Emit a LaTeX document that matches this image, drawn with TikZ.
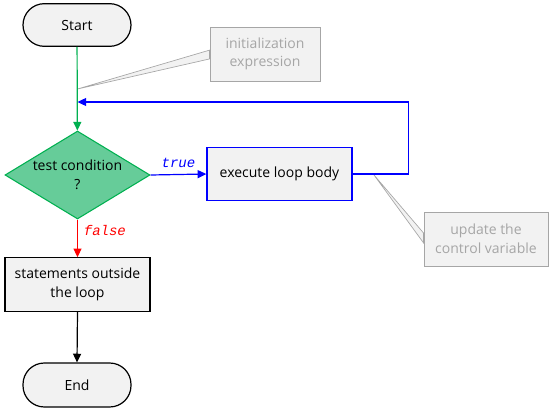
\documentclass[tikz,border=0pt]{standalone}
\usepackage{fontspec}
\setmainfont{Open Sans}
\setmonofont{Liberation Mono}
\usetikzlibrary{shapes.geometric,arrows.meta,backgrounds,calc}
\definecolor{boxfill}{HTML}{F2F2F2}
\definecolor{notegray}{HTML}{A6A6A6}
\definecolor{dgreen}{HTML}{00B050}
\definecolor{lgreen}{HTML}{66CC99}
\begin{document}
\begin{tikzpicture}[x=0.75pt,y=-0.75pt,
  font=\fontsize{10.5}{14}\selectfont,
  term/.style={draw=black,fill=boxfill,line width=0.9pt,minimum width=81pt,minimum height=32pt,rounded corners=16pt,inner sep=0pt},
  proc/.style={draw=black,fill=boxfill,line width=0.9pt,minimum width=108.75pt,minimum height=40pt,inner sep=0pt,align=center},
  dec/.style={diamond,shape aspect=1.8,draw=dgreen,fill=lgreen,line width=0.8pt,minimum width=108.75pt,minimum height=66pt,inner sep=0pt,align=center},
  note/.style={draw=notegray,fill=boxfill,text=notegray,line width=0.75pt,minimum height=40.5pt,inner sep=0pt,align=center},
  pointer/.style={draw=notegray,fill=boxfill,line width=0.5pt},
  arr/.style={line width=0.9pt,-{Triangle[length=6.5pt,width=6pt]}},
  lbl/.style={font=\fontsize{10.5}{12}\selectfont\ttfamily\itshape}
]
\useasboundingbox (0,0) rectangle (554,414);
\node[term] (start) at (77,25) {Start};
\node[dec] (cond) at (77.5,175) {test condition\\?};
\node[proc,draw=blue,line width=1pt] (body) at (279.5,174) {execute loop body};
\node[proc] (stmt) at (77.5,284.5) {statements outside\\the loop};
\node[term,minimum height=33pt] (end) at (77,385) {End};
\node[note,minimum width=82.5pt] (init) at (265,54) {initialization\\expression};
\node[note,minimum width=93pt] (upd) at (486,239) {update the\\control variable};
\coordinate (inittip) at (77.5,89);
\coordinate (loopin) at (77.5,102);
\coordinate (updtip) at (374,175);
\begin{scope}[on background layer]
\filldraw[pointer] ($(init.north west)!0.43!(init.south west)$) -- (inittip) -- ($(init.north west)!0.59!(init.south west)$) -- cycle;
\filldraw[pointer] ($(upd.north west)!0.39!(upd.south west)$) -- (updtip) -- ($(upd.north west)!0.57!(upd.south west)$) -- cycle;
\end{scope}
\draw[arr,dgreen] (start) -- (cond);
\draw[arr,blue] (body.east) -- ++(56,0) |- (loopin);
\draw[arr,blue] (cond.east) -- node[lbl,above,pos=0.5,yshift=1pt]{true} (body.west);
\draw[arr,red] (cond.south) -- node[lbl,right,pos=0.3,xshift=1pt]{false} (stmt.north);
\draw[arr,black] (stmt.south) -- (end.north);
\end{tikzpicture}
\end{document}
